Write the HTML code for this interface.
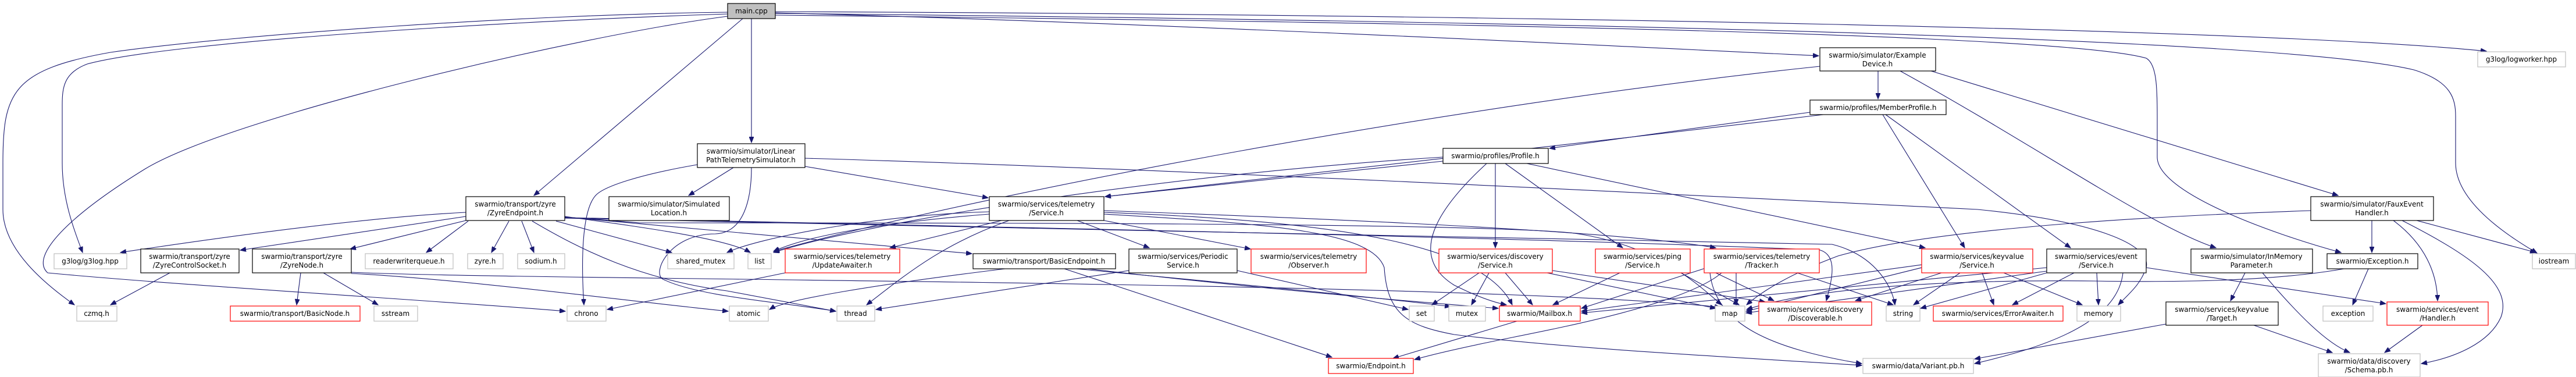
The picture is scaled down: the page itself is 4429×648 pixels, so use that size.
<!DOCTYPE html>
<html><head><meta charset="utf-8"><style>
html,body{margin:0;padding:0;background:#fff;}
svg{display:block;}
text{font-family:"DejaVu Sans","Liberation Sans",sans-serif;font-size:12px;fill:#000;text-anchor:middle;}
.e{fill:none;stroke:#191970;stroke-width:1.1;marker-end:url(#a);}
.b{fill:#fff;stroke:#000;stroke-width:1.2;}
.g{fill:#fff;stroke:#bfbfbf;stroke-width:1.2;}
.r{fill:#fff;stroke:#ff0000;stroke-width:1.2;}
.m{fill:#bfbfbf;stroke:#000;stroke-width:1.2;}
</style></head><body>
<svg width="4429" height="648" viewBox="0 0 4429 648" xmlns="http://www.w3.org/2000/svg">
<defs><marker id="a" markerUnits="userSpaceOnUse" markerWidth="11" markerHeight="8" refX="10" refY="4" orient="auto"><path d="M0,0 L10,4 L0,8 z" fill="#191970" stroke="#191970"/></marker></defs>
<g>
<path class="e" d="M1251,21 C900,25 400,60 190,90 C20,120 5,160 5,280 L5,360 C5,430 80,490 128,524"/>
<path class="e" d="M1251,24 C900,35 300,70 150,110 C110,125 107,150 107,180 L107,280 C107,340 125,390 142,434"/>
<path class="e" d="M1251,28 C1000,60 400,200 250,290 C120,370 50,440 82,469 C300,490 800,520 972,535"/>
<path class="e" d="M1277,32 L918,336"/>
<path class="e" d="M1292,32 L1292,245"/>
<path class="e" d="M1333,22 C2000,40 2800,80 3127,96"/>
<path class="e" d="M1333,20 C2600,25 3900,50 4275,88"/>
<path class="e" d="M1333,23 C2500,35 3900,60 4150,120 C4215,140 4222,170 4222,200 L4222,280 C4222,350 4320,410 4362,435"/>
<path class="e" d="M1333,26 C2600,40 3550,60 3690,100 C3708,110 3709,150 3709,200 L3709,270 C3709,330 3900,400 4025,434"/>
<path class="e" d="M1261,288 L1184,336"/>
<path class="e" d="M1199,283 C1100,300 1040,320 1025,335 C1000,360 999,450 1004,524"/>
<path class="e" d="M1292,288 C1292,340 1280,400 1230,402 C1150,402 1120,470 1140,480 C1200,510 1350,520 1437,535"/>
<path class="e" d="M1384,286 L1699,340"/>
<path class="e" d="M1384,272 C2000,290 2800,330 3400,360 C3600,380 3700,420 3690,460 C3680,490 3660,505 3642,524"/>
<path class="e" d="M801,365 C600,375 300,420 207,434"/>
<path class="e" d="M801,372 L413,430"/>
<path class="e" d="M801,379 L602,428"/>
<path class="e" d="M805,380 L733,434"/>
<path class="e" d="M875,380 L845,434"/>
<path class="e" d="M897,380 L918,434"/>
<path class="e" d="M956,380 L1155,434"/>
<path class="e" d="M971,372 C1100,390 1250,410 1290,434"/>
<path class="e" d="M915,380 C1000,430 1100,480 1250,500 L1437,535"/>
<path class="e" d="M971,373 L1671,436"/>
<path class="e" d="M971,373 L1100,383 C1700,383 2500,383 2700,400 C2850,420 2920,490 2960,524"/>
<path class="e" d="M971,375 L1900,395 C2500,410 3000,415 3150,420 C3230,440 3255,500 3258,524"/>
<path class="e" d="M971,374 C1800,392 2700,410 3130,430 C3160,440 3150,480 3140,517"/>
<path class="e" d="M517,469 L510,524"/>
<path class="e" d="M556,469 L650,524"/>
<path class="e" d="M604,470 C800,480 1100,520 1252,535"/>
<path class="e" d="M604,468 C900,482 2500,482 2958,528"/>
<path class="e" d="M292,469 L190,524"/>
<path class="e" d="M1350,469 L1044,532"/>
<path class="e" d="M1722,379 L1530,426"/>
<path class="e" d="M1735,379 C1620,420 1560,470 1490,524"/>
<path class="e" d="M1852,379 L1976,426"/>
<path class="e" d="M1898,379 L2150,428"/>
<path class="e" d="M1701,364 C1500,370 1300,410 1250,434"/>
<path class="e" d="M1701,368 C1550,380 1400,400 1330,432"/>
<path class="e" d="M1898,362 C2400,380 2800,400 2950,426"/>
<path class="e" d="M1898,365 C2300,380 2550,420 2600,524"/>
<path class="e" d="M1898,368 C2200,385 2360,400 2380,460 C2385,540 2420,560 2500,575 C2700,600 3000,615 3201,628"/>
<path class="e" d="M1728,462 C1500,490 1350,515 1323,532"/>
<path class="e" d="M1870,462 C2200,500 2450,520 2576,530"/>
<path class="e" d="M1850,462 C2150,490 2400,515 2494,527"/>
<path class="e" d="M1830,462 L2290,614"/>
<path class="e" d="M1941,465 L1506,532"/>
<path class="e" d="M2127,465 L2421,532"/>
<path class="e" d="M2481,277 L1900,338"/>
<path class="e" d="M2571,281 L2571,426"/>
<path class="e" d="M2588,281 L2790,426"/>
<path class="e" d="M2556,281 C2470,360 2420,440 2500,490 C2540,510 2570,520 2590,524"/>
<path class="e" d="M2625,281 L3310,426"/>
<path class="e" d="M2481,270 C2000,300 1500,380 1330,434"/>
<path class="e" d="M3112,193 L2664,255"/>
<path class="e" d="M3135,197 C2700,250 2200,300 1900,338"/>
<path class="e" d="M3237,197 L3378,426"/>
<path class="e" d="M3242,197 L3560,426"/>
<path class="e" d="M3229,122 L3229,170"/>
<path class="e" d="M3129,114 C2500,180 1700,330 1330,432"/>
<path class="e" d="M3267,122 C3500,250 3700,390 3810,426"/>
<path class="e" d="M3320,122 L4020,336"/>
<path class="e" d="M2543,469 L2462,524"/>
<path class="e" d="M2560,469 L2530,524"/>
<path class="e" d="M2588,469 L2635,524"/>
<path class="e" d="M2660,469 L2950,530"/>
<path class="e" d="M2669,465 L3035,519"/>
<path class="e" d="M2785,469 L2670,524"/>
<path class="e" d="M2890,469 L2990,524"/>
<path class="e" d="M2985,469 L2985,524"/>
<path class="e" d="M2950,469 L3050,517"/>
<path class="e" d="M3090,469 L3255,524"/>
<path class="e" d="M2960,469 C2900,520 2700,560 2600,580 C2500,600 2460,610 2432,618"/>
<path class="e" d="M2940,469 C2950,560 3050,600 3201,625"/>
<path class="e" d="M2935,460 L2719,530"/>
<path class="e" d="M3304,460 L3002,535"/>
<path class="e" d="M3338,469 L3190,517"/>
<path class="e" d="M3370,469 L3290,524"/>
<path class="e" d="M3408,469 L3428,524"/>
<path class="e" d="M3445,469 L3580,524"/>
<path class="e" d="M3304,455 L2719,535"/>
<path class="e" d="M3519,469 L3302,530"/>
<path class="e" d="M3566,469 L3460,524"/>
<path class="e" d="M3605,469 L3608,524"/>
<path class="e" d="M3519,466 L3002,538"/>
<path class="e" d="M3519,460 L2719,538"/>
<path class="e" d="M3690,460 L4102,522"/>
<path class="e" d="M3650,469 C3640,560 3500,600 3395,625"/>
<path class="e" d="M3860,469 L3835,517"/>
<path class="e" d="M3890,469 C3950,540 4000,590 4040,606"/>
<path class="e" d="M3875,559 L4010,606"/>
<path class="e" d="M3724,557 L3395,617"/>
<path class="e" d="M4072,462 L4045,524"/>
<path class="e" d="M4030,462 C3900,485 3720,485 3600,483 C3300,480 3100,500 3003,532"/>
<path class="e" d="M4078,379 L4078,434"/>
<path class="e" d="M4115,379 C4170,420 4190,470 4191,517"/>
<path class="e" d="M4155,379 L4360,434"/>
<path class="e" d="M4130,379 C4250,440 4320,490 4300,545 C4280,590 4220,615 4163,625"/>
<path class="e" d="M3973,362 C3600,375 3300,400 3160,440 C3080,470 3030,500 3003,524"/>
<path class="e" d="M4165,559 L4100,606"/>
<path class="e" d="M2608,552 L2395,616"/>
</g>
<g>
<rect class="m" x="1251" y="6" width="82" height="26"/><text x="1292" y="23">main.cpp</text>
<rect class="b" x="1199" y="247" width="185" height="41"/><text x="1291" y="264">swarmio/simulator/Linear</text><text x="1291" y="279">PathTelemetrySimulator.h</text>
<rect class="b" x="801" y="338" width="170" height="41"/><text x="886" y="355">swarmio/transport/zyre</text><text x="886" y="370">/ZyreEndpoint.h</text>
<rect class="b" x="1047" y="338" width="207" height="41"/><text x="1150" y="355">swarmio/simulator/Simulated</text><text x="1150" y="370">Location.h</text>
<rect class="b" x="1701" y="338" width="197" height="41"/><text x="1799" y="355">swarmio/services/telemetry</text><text x="1799" y="370">/Service.h</text>
<rect class="b" x="2481" y="255" width="181" height="26"/><text x="2571" y="272">swarmio/profiles/Profile.h</text>
<rect class="b" x="3129" y="82" width="199" height="40"/><text x="3228" y="99">swarmio/simulator/Example</text><text x="3228" y="114">Device.h</text>
<rect class="b" x="3112" y="172" width="234" height="25"/><text x="3229" y="189">swarmio/profiles/MemberProfile.h</text>
<rect class="b" x="3973" y="338" width="211" height="41"/><text x="4078" y="355">swarmio/simulator/FauxEvent</text><text x="4078" y="370">Handler.h</text>
<rect class="g" x="4260" y="89" width="151" height="26"/><text x="4335" y="106">g3log/logworker.hpp</text>

<rect class="g" x="93" y="436" width="125" height="26"/><text x="155" y="453">g3log/g3log.hpp</text>
<rect class="b" x="242" y="428" width="169" height="41"/><text x="326" y="445">swarmio/transport/zyre</text><text x="326" y="460">/ZyreControlSocket.h</text>
<rect class="b" x="434" y="428" width="170" height="41"/><text x="519" y="445">swarmio/transport/zyre</text><text x="519" y="460">/ZyreNode.h</text>
<rect class="g" x="628" y="436" width="151" height="26"/><text x="703" y="453">readerwriterqueue.h</text>
<rect class="g" x="804" y="436" width="61" height="26"/><text x="834" y="453">zyre.h</text>
<rect class="g" x="890" y="436" width="81" height="26"/><text x="930" y="453">sodium.h</text>
<rect class="g" x="1148" y="436" width="114" height="26"/><text x="1205" y="453">shared_mutex</text>
<rect class="g" x="1286" y="436" width="40" height="26"/><text x="1306" y="453">list</text>
<rect class="r" x="1350" y="428" width="197" height="41"/><text x="1448" y="445">swarmio/services/telemetry</text><text x="1448" y="460">/UpdateAwaiter.h</text>
<rect class="b" x="1673" y="436" width="245" height="26"/><text x="1795" y="453">swarmio/transport/BasicEndpoint.h</text>
<rect class="b" x="1941" y="428" width="186" height="41"/><text x="2034" y="445">swarmio/services/Periodic</text><text x="2034" y="460">Service.h</text>
<rect class="r" x="2151" y="428" width="198" height="41"/><text x="2250" y="445">swarmio/services/telemetry</text><text x="2250" y="460">/Observer.h</text>
<rect class="r" x="2474" y="428" width="195" height="41"/><text x="2571" y="445">swarmio/services/discovery</text><text x="2571" y="460">/Service.h</text>
<rect class="r" x="2743" y="428" width="163" height="41"/><text x="2824" y="445">swarmio/services/ping</text><text x="2824" y="460">/Service.h</text>
<rect class="r" x="2930" y="428" width="198" height="41"/><text x="3029" y="445">swarmio/services/telemetry</text><text x="3029" y="460">/Tracker.h</text>
<rect class="r" x="3304" y="428" width="191" height="41"/><text x="3399" y="445">swarmio/services/keyvalue</text><text x="3399" y="460">/Service.h</text>
<rect class="b" x="3519" y="428" width="171" height="41"/><text x="3604" y="445">swarmio/services/event</text><text x="3604" y="460">/Service.h</text>
<rect class="b" x="3767" y="428" width="209" height="41"/><text x="3871" y="445">swarmio/simulator/InMemory</text><text x="3871" y="460">Parameter.h</text>
<rect class="b" x="4001" y="436" width="156" height="26"/><text x="4079" y="453">swarmio/Exception.h</text>
<rect class="g" x="4354" y="436" width="74" height="26"/><text x="4391" y="453">iostream</text>

<rect class="g" x="132" y="526" width="69" height="26"/><text x="166" y="543">czmq.h</text>
<rect class="r" x="396" y="526" width="223" height="26"/><text x="507" y="543">swarmio/transport/BasicNode.h</text>
<rect class="g" x="643" y="526" width="75" height="26"/><text x="680" y="543">sstream</text>
<rect class="g" x="975" y="526" width="67" height="26"/><text x="1008" y="543">chrono</text>
<rect class="g" x="1254" y="526" width="67" height="26"/><text x="1287" y="543">atomic</text>
<rect class="g" x="1439" y="526" width="65" height="26"/><text x="1471" y="543">thread</text>
<rect class="g" x="2423" y="526" width="43" height="26"/><text x="2444" y="543">set</text>
<rect class="g" x="2491" y="526" width="63" height="26"/><text x="2522" y="543">mutex</text>
<rect class="r" x="2578" y="526" width="139" height="26"/><text x="2647" y="543">swarmio/Mailbox.h</text>
<rect class="g" x="2949" y="526" width="51" height="26"/><text x="2974" y="543">map</text>
<rect class="r" x="3024" y="519" width="194" height="40"/><text x="3121" y="536">swarmio/services/discovery</text><text x="3121" y="551">/Discoverable.h</text>
<rect class="g" x="3243" y="526" width="58" height="26"/><text x="3272" y="543">string</text>
<rect class="r" x="3324" y="526" width="223" height="26"/><text x="3435" y="543">swarmio/services/ErrorAwaiter.h</text>
<rect class="g" x="3571" y="526" width="75" height="26"/><text x="3608" y="543">memory</text>
<rect class="b" x="3724" y="519" width="193" height="40"/><text x="3820" y="536">swarmio/services/keyvalue</text><text x="3820" y="551">/Target.h</text>
<rect class="g" x="3994" y="526" width="86" height="26"/><text x="4037" y="543">exception</text>
<rect class="r" x="4104" y="519" width="174" height="40"/><text x="4191" y="536">swarmio/services/event</text><text x="4191" y="551">/Handler.h</text>
<rect class="r" x="2284" y="616" width="146" height="26"/><text x="2357" y="633">swarmio/Endpoint.h</text>
<rect class="g" x="3203" y="616" width="190" height="26"/><text x="3298" y="633">swarmio/data/Variant.pb.h</text>
<rect class="g" x="3986" y="608" width="175" height="40"/><text x="4073" y="625">swarmio/data/discovery</text><text x="4073" y="640">/Schema.pb.h</text>
</g>
</svg>
</body></html>
